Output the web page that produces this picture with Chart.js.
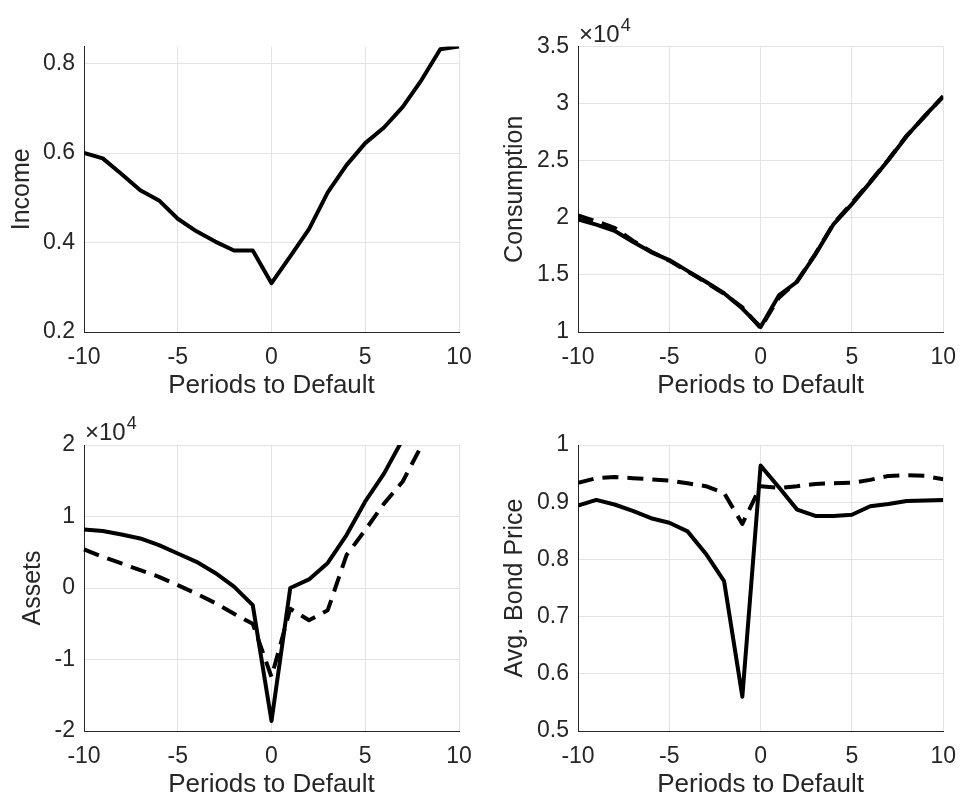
<!DOCTYPE html>
<html>
<head>
<meta charset="utf-8">
<title>Periods to Default</title>
<script src="https://cdn.jsdelivr.net/npm/chart.js@4.4.1/dist/chart.umd.min.js"></script>
<style>
  html, body { margin: 0; padding: 0; background: #fff; }
  #fig { position: relative; width: 968px; height: 799px; overflow: hidden; }
  #fig canvas { position: absolute; }
</style>
</head>
<body>
<div id="fig">
  <canvas id="income" width="484" height="400" style="left:0;top:0"></canvas>
  <canvas id="consumption" width="484" height="400" style="left:484px;top:0"></canvas>
  <canvas id="assets" width="484" height="400" style="left:0;top:399px"></canvas>
  <canvas id="bondPrice" width="484" height="400" style="left:484px;top:399px"></canvas>
</div>
<script>
// periods relative to the default event
const periods = [-10, -9, -8, -7, -6, -5, -4, -3, -2, -1, 0, 1, 2, 3, 4, 5, 6, 7, 8, 9, 10];
const xTicks = [-10, -5, 0, 5, 10];

const income = [0.600, 0.588, 0.553, 0.517, 0.494, 0.453, 0.425, 0.402, 0.382, 0.382, 0.309,
                0.369, 0.430, 0.512, 0.573, 0.622, 0.657, 0.703, 0.763, 0.832, 0.838];
const incomeTicks = [0.2, 0.4, 0.6, 0.8];
const incomeTickLabels = ['0.2', '0.4', '0.6', '0.8'];

// consumption and assets are in units of 10^4
const consumptionSolid = [1.986, 1.94, 1.886, 1.79, 1.70, 1.63, 1.535, 1.44, 1.34, 1.205, 1.044,
                          1.32, 1.44, 1.68, 1.945, 2.12, 2.31, 2.506, 2.714, 2.895, 3.06];
const consumptionDashed = [2.02, 1.97, 1.912, 1.80, 1.705, 1.625, 1.53, 1.435, 1.335, 1.215, 1.035,
                           1.30, 1.445, 1.685, 1.95, 2.13, 2.315, 2.51, 2.72, 2.89, 3.065];
const consumptionTicks = [1, 1.5, 2, 2.5, 3, 3.5];
const consumptionTickLabels = ['1', '1.5', '2', '2.5', '3', '3.5'];

const assetsSolid = [0.819, 0.796, 0.749, 0.693, 0.60, 0.483, 0.366, 0.21, 0.02, -0.24, -1.86,
                     0.0, 0.12, 0.35, 0.74, 1.21, 1.60, 2.08, 2.55, 3.0, 3.45];
const assetsDashed = [0.54, 0.436, 0.343, 0.25, 0.156, 0.04, -0.08, -0.21, -0.36, -0.50, -1.245,
                      -0.29, -0.45, -0.31, 0.46, 0.81, 1.18, 1.49, 1.99, 2.5, 3.0];
const assetsTicks = [-2, -1, 0, 1, 2];
const assetsTickLabels = ['-2', '-1', '0', '1', '2'];

const bondSolid = [0.894, 0.904, 0.896, 0.885, 0.872, 0.864, 0.849, 0.810, 0.762, 0.560, 0.964,
                   0.926, 0.887, 0.876, 0.876, 0.878, 0.893, 0.897, 0.902, 0.903, 0.904];
const bondDashed = [0.934, 0.942, 0.944, 0.942, 0.940, 0.938, 0.933, 0.928, 0.916, 0.862, 0.928,
                    0.925, 0.928, 0.932, 0.933, 0.934, 0.939, 0.946, 0.947, 0.946, 0.940];
const bondTicks = [0.5, 0.6, 0.7, 0.8, 0.9, 1];
const bondTickLabels = ['0.5', '0.6', '0.7', '0.8', '0.9', '1'];

const fontFamily = '"Liberation Sans", Arial, Helvetica, sans-serif';
const axisColor = '#262626';
const gridColor = '#e3e3e3';

// draws the "x10^4" multiplier above the y axis
const exponentLabel = {
    id: 'exponentLabel',
    afterDraw(chart) {
        const area = chart.chartArea;
        const c = chart.ctx;
        c.save();
        c.fillStyle = axisColor;
        c.textAlign = 'left';
        c.textBaseline = 'alphabetic';
        c.font = '24px ' + fontFamily;
        const base = '\u00d710';
        c.fillText(base, area.left + 1, area.top - 5);
        const w = c.measureText(base).width;
        c.font = '18px ' + fontFamily;
        c.fillText('4', area.left + 2 + w, area.top - 16);
        c.restore();
    }
};

function makePanel(id, cfg) {
    const datasets = cfg.series.map(s => ({
        data: periods.map((p, i) => ({ x: p, y: s.values[i] })),
        borderColor: '#000',
        borderWidth: 4,
        borderDash: s.dashed ? [16, 9] : [],
        borderJoinStyle: 'round',
        pointRadius: 0,
        tension: 0,
        fill: false,
        clip: cfg.clip
    }));

    return new Chart(document.getElementById(id), {
        type: 'line',
        data: { datasets },
        options: {
            responsive: false,
            animation: false,
            events: [],
            layout: { padding: { top: cfg.top, right: cfg.right, left: 0, bottom: 0 } },
            plugins: { legend: { display: false }, tooltip: { enabled: false } },
            scales: {
                x: {
                    type: 'linear',
                    min: -10,
                    max: 10,
                    afterBuildTicks: s => { s.ticks = xTicks.map(v => ({ value: v })); },
                    afterFit: s => { s.height = 68; },
                    grid: { color: gridColor, drawTicks: false },
                    border: { color: axisColor, width: 1 },
                    ticks: {
                        padding: 12,
                        color: axisColor,
                        maxRotation: 0,
                        font: { family: fontFamily, size: 23 },
                        callback: v => String(v)
                    },
                    title: {
                        display: true,
                        text: 'Periods to Default',
                        color: axisColor,
                        font: { family: fontFamily, size: 26, lineHeight: 1 },
                        padding: { top: 0, bottom: 1 }
                    }
                },
                y: {
                    type: 'linear',
                    min: cfg.yMin,
                    max: cfg.yMax,
                    afterBuildTicks: s => { s.ticks = cfg.yTicks.map(v => ({ value: v })); },
                    afterFit: s => { s.width = cfg.yWidth; },
                    grid: { color: gridColor, drawTicks: false },
                    border: { color: axisColor, width: 1 },
                    ticks: {
                        padding: 9,
                        color: axisColor,
                        font: { family: fontFamily, size: 23 },
                        callback: v => cfg.yTickLabels[cfg.yTicks.indexOf(v)]
                    },
                    title: {
                        display: true,
                        text: cfg.yTitle,
                        color: axisColor,
                        font: { family: fontFamily, size: 25, lineHeight: 1 },
                        padding: { top: cfg.yTitlePad, bottom: 0 }
                    }
                }
            }
        },
        plugins: cfg.exponent ? [exponentLabel] : []
    });
}

makePanel('income', {
    series: [{ values: income }],
    yMin: 0.2, yMax: 0.838, yTicks: incomeTicks, yTickLabels: incomeTickLabels,
    yTitle: 'Income', yTitlePad: 10,
    top: 46.5, right: 25, yWidth: 84
});

makePanel('consumption', {
    series: [{ values: consumptionSolid }, { values: consumptionDashed, dashed: true }],
    yMin: 1, yMax: 3.5, yTicks: consumptionTicks, yTickLabels: consumptionTickLabels,
    yTitle: 'Consumption', yTitlePad: 19,
    top: 46.5, right: 15, yWidth: 94, exponent: true
});

makePanel('assets', {
    series: [{ values: assetsSolid }, { values: assetsDashed, dashed: true }],
    yMin: -2, yMax: 2, yTicks: assetsTicks, yTickLabels: assetsTickLabels,
    yTitle: 'Assets', yTitlePad: 20.5,
    top: 46, right: 25, yWidth: 84, exponent: true,
    clip: { left: 2, right: 2, top: 0, bottom: 2 }
});

makePanel('bondPrice', {
    series: [{ values: bondSolid }, { values: bondDashed, dashed: true }],
    yMin: 0.5, yMax: 1, yTicks: bondTicks, yTickLabels: bondTickLabels,
    yTitle: 'Avg. Bond Price', yTitlePad: 18.5,
    top: 46, right: 15, yWidth: 94
});
</script>
</body>
</html>
